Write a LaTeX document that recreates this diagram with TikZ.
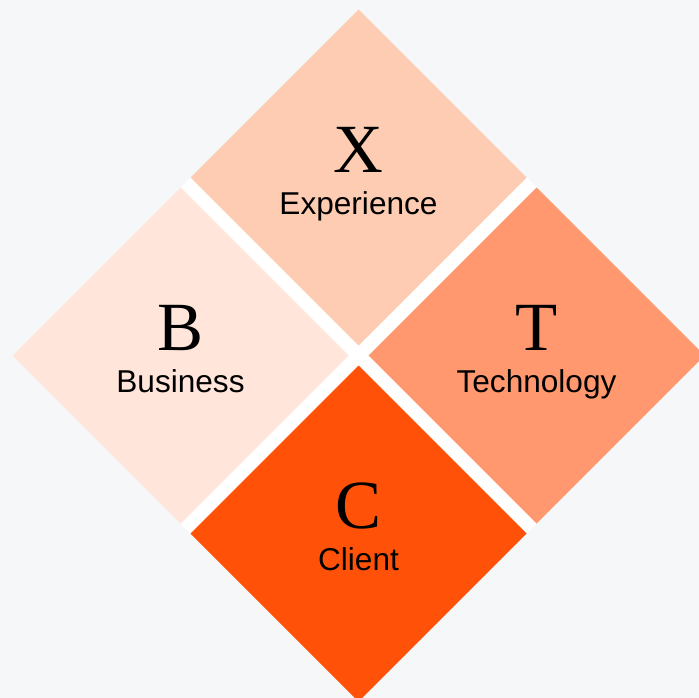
\documentclass[tikz,border=0pt]{standalone}
\usepackage{fontspec}
\setmainfont{Liberation Serif}
\newfontfamily\labelsans{Liberation Sans}
\definecolor{bgc}{RGB}{245,247,249}
\definecolor{xcol}{RGB}{254,204,178}
\definecolor{bcol}{RGB}{255,229,218}
\definecolor{tcol}{RGB}{255,152,110}
\definecolor{ccol}{RGB}{255,82,8}
\newcommand\mydiam[3]{\fill[#3] ({#1},{#2-168}) -- ({#1+168},{#2}) -- ({#1},{#2+168}) -- ({#1-168},{#2}) -- cycle;}
\begin{document}
\begin{tikzpicture}[x=1pt,y=-1pt,
  letter/.style={font=\fontsize{69}{69}\selectfont, anchor=base, inner sep=0pt, text=black},
  word/.style={font=\labelsans\fontsize{31.6}{31.6}\selectfont, anchor=base, inner sep=0pt, text=black}]
\useasboundingbox (0,0) rectangle (699,698);
\clip (0,0) rectangle (699,698);
\fill[bgc] (0,0) rectangle (699,698);
\fill[white] (358.5,9.5) -- (704.5,355.5) -- (358.5,701.5) -- (12.5,355.5) -- cycle;
\mydiam{358.5}{177.5}{xcol}
\mydiam{180.5}{355.5}{bcol}
\mydiam{536.5}{355.5}{tcol}
\mydiam{358.5}{533.5}{ccol}
\node[letter] (xl) at (358.5,172) {X};
\node[word] (xw) at (358.5,214.5) {Experience};
\node[letter] (bl) at (180.5,350) {B};
\node[word] (bw) at (180.5,392.5) {Business};
\node[letter] (tl) at (536.5,350) {T};
\node[word] (tw) at (536.5,392.5) {Technology};
\node[letter] (cl) at (358.5,528) {C};
\node[word] (cw) at (358.5,570.5) {Client};
\end{tikzpicture}
\end{document}
